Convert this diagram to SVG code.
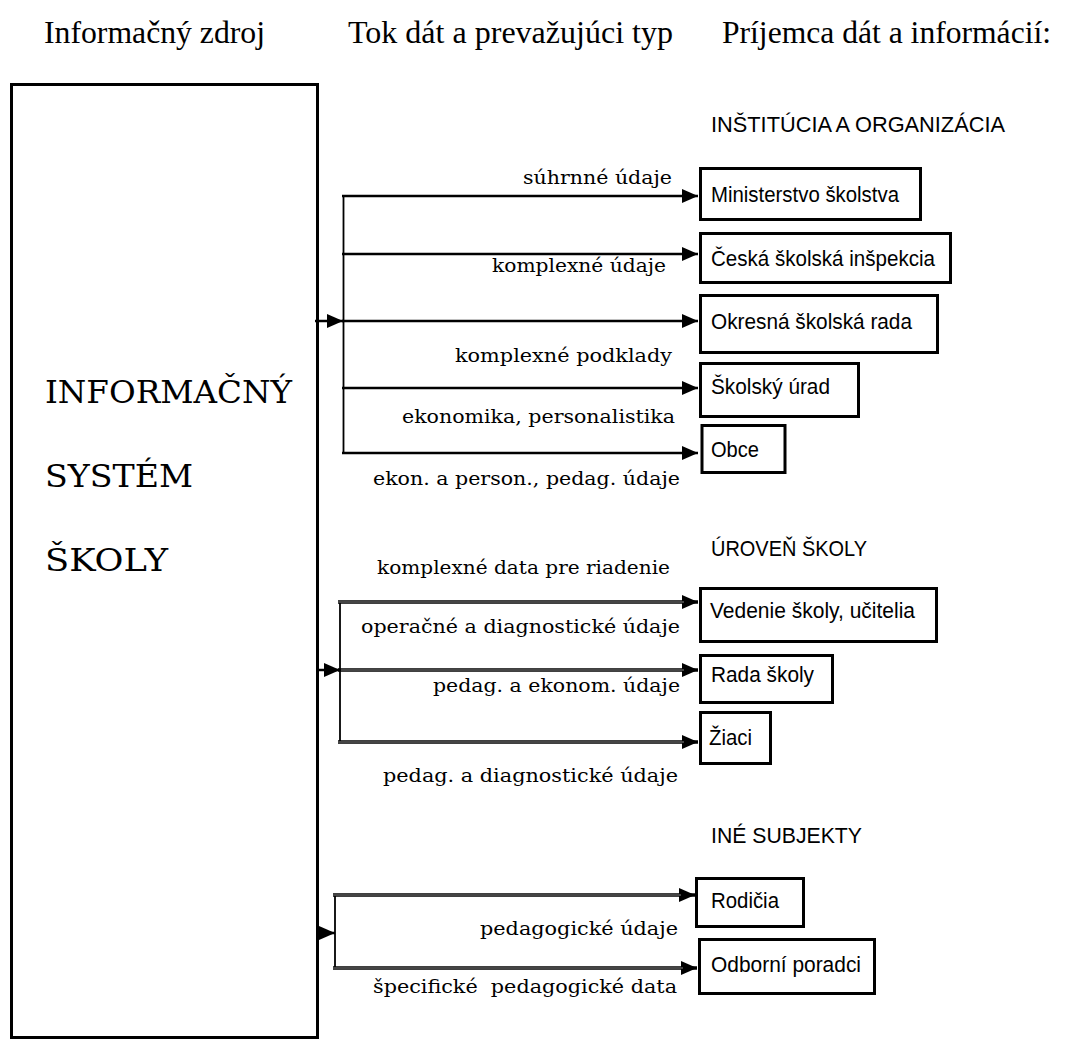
<svg xmlns="http://www.w3.org/2000/svg" width="1066" height="1041" viewBox="0 0 1066 1041">
  <style>
    .hdr { font-family: "Liberation Serif", "Times New Roman", serif; font-size: 32px; fill: #000; }
    .big { font-family: "DejaVu Serif", serif; font-size: 32px; fill: #000; }
    .box { fill: #fff; stroke: #000; stroke-width: 3; }
    .lbl { font-family: "Liberation Sans", Arial, sans-serif; font-size: 22.5px; fill: #000; }
    .flow { font-family: "DejaVu Serif", serif; font-size: 19px; fill: #000; white-space: pre; }
    .single { stroke: #000; stroke-width: 2.5; fill: none; }
    .bus { stroke: #000; stroke-width: 1.8; fill: none; }
    .dbl { stroke: #000; stroke-width: 3.6; fill: none; }
    .dblmid { stroke: #9a9a9a; stroke-width: 0.9; fill: none; }
  </style>
  <defs>
    <marker id="arr" viewBox="0 0 16 14" refX="16" refY="7" markerWidth="16" markerHeight="14" orient="auto" markerUnits="userSpaceOnUse">
      <path d="M0,0 L16,7 L0,14 z" fill="#000"/>
    </marker>
  </defs>

  <rect width="1066" height="1041" fill="#fff"/>

  <!-- column headings -->
  <g id="headings">
    <text class="hdr" x="44" y="43" textLength="221" lengthAdjust="spacingAndGlyphs">Informačný zdroj</text>
    <text class="hdr" x="348" y="43" textLength="325" lengthAdjust="spacingAndGlyphs">Tok dát a prevažujúci typ</text>
    <text class="hdr" x="722" y="43" textLength="329" lengthAdjust="spacingAndGlyphs">Príjemca dát a informácií:</text>
  </g>

  <!-- source: school information system -->
  <g id="source">
    <rect class="box" x="11.5" y="84.5" width="306" height="953"/>
    <text class="big" x="45" y="403" textLength="247" lengthAdjust="spacingAndGlyphs">INFORMAČNÝ</text>
    <text class="big" x="45" y="487" textLength="148" lengthAdjust="spacingAndGlyphs">SYSTÉM</text>
    <text class="big" x="45" y="571" textLength="123" lengthAdjust="spacingAndGlyphs">ŠKOLY</text>
  </g>

  <!-- connectors -->
  <g id="connectors">
    <!-- institutions and organisations -->
    <line class="single" x1="315" y1="321" x2="343" y2="321" marker-end="url(#arr)"/>
    <line class="bus" x1="343.5" y1="195" x2="343.5" y2="454"/>
    <line class="single" x1="342" y1="196" x2="698" y2="196" marker-end="url(#arr)"/>
    <line class="single" x1="342" y1="254" x2="698" y2="254" marker-end="url(#arr)"/>
    <line class="single" x1="342" y1="321" x2="698" y2="321" marker-end="url(#arr)"/>
    <line class="single" x1="342" y1="388" x2="698" y2="388" marker-end="url(#arr)"/>
    <line class="single" x1="342" y1="453" x2="698" y2="453" marker-end="url(#arr)"/>

    <!-- school level -->
    <line class="single" x1="317" y1="670" x2="340" y2="670" marker-end="url(#arr)"/>
    <line class="bus" x1="340" y1="602" x2="340" y2="742"/>
    <line class="dbl" x1="338" y1="602" x2="698" y2="602" marker-end="url(#arr)"/>
    <line class="dblmid" x1="338" y1="602" x2="684" y2="602"/>
    <line class="dbl" x1="338" y1="670" x2="698" y2="670" marker-end="url(#arr)"/>
    <line class="dblmid" x1="341" y1="670" x2="684" y2="670"/>
    <line class="dbl" x1="338" y1="742" x2="698" y2="742" marker-end="url(#arr)"/>
    <line class="dblmid" x1="338" y1="742" x2="684" y2="742"/>

    <!-- other subjects -->
    <line class="single" x1="317" y1="933" x2="335" y2="933" marker-end="url(#arr)"/>
    <line class="bus" x1="335" y1="895" x2="335" y2="968"/>
    <line class="dbl" x1="333" y1="895" x2="695" y2="895" marker-end="url(#arr)"/>
    <line class="dblmid" x1="333" y1="895" x2="681" y2="895"/>
    <line class="dbl" x1="333" y1="968" x2="697" y2="968" marker-end="url(#arr)"/>
    <line class="dblmid" x1="333" y1="968" x2="683" y2="968"/>
  </g>

  <!-- flow labels -->
  <g id="flow-labels">
    <text class="flow" x="523" y="184" textLength="149" lengthAdjust="spacingAndGlyphs">súhrnné údaje</text>
    <text class="flow" x="492" y="272" textLength="174" lengthAdjust="spacingAndGlyphs">komplexné údaje</text>
    <text class="flow" x="455" y="362" textLength="217" lengthAdjust="spacingAndGlyphs">komplexné podklady</text>
    <text class="flow" x="402" y="423" textLength="273" lengthAdjust="spacingAndGlyphs">ekonomika, personalistika</text>
    <text class="flow" x="373" y="485" textLength="307" lengthAdjust="spacingAndGlyphs">ekon. a person., pedag. údaje</text>
    <text class="flow" x="377" y="574" textLength="293" lengthAdjust="spacingAndGlyphs">komplexné data pre riadenie</text>
    <text class="flow" x="361" y="633" textLength="319" lengthAdjust="spacingAndGlyphs">operačné a diagnostické údaje</text>
    <text class="flow" x="433" y="692" textLength="247" lengthAdjust="spacingAndGlyphs">pedag. a ekonom. údaje</text>
    <text class="flow" x="383" y="782" textLength="295" lengthAdjust="spacingAndGlyphs">pedag. a diagnostické údaje</text>
    <text class="flow" x="480" y="935" textLength="198" lengthAdjust="spacingAndGlyphs">pedagogické údaje</text>
    <text class="flow" x="373" y="993" textLength="304" lengthAdjust="spacingAndGlyphs">špecifické  pedagogické data</text>
  </g>

  <!-- group headings -->
  <g id="group-headings">
    <text class="lbl" x="711" y="132" textLength="294" lengthAdjust="spacingAndGlyphs">INŠTITÚCIA A ORGANIZÁCIA</text>
    <text class="lbl" x="711" y="556" textLength="156" lengthAdjust="spacingAndGlyphs">ÚROVEŇ ŠKOLY</text>
    <text class="lbl" x="711" y="843" textLength="151" lengthAdjust="spacingAndGlyphs">INÉ SUBJEKTY</text>
  </g>

  <!-- recipients -->
  <g id="ministerstvo">
    <rect class="box" x="700.5" y="168.5" width="220" height="51"/>
    <text class="lbl" x="711" y="202" textLength="188" lengthAdjust="spacingAndGlyphs">Ministerstvo školstva</text>
  </g>
  <g id="inspekcia">
    <rect class="box" x="700.5" y="233.5" width="250" height="49"/>
    <text class="lbl" x="711" y="266" textLength="224" lengthAdjust="spacingAndGlyphs">Česká školská inšpekcia</text>
  </g>
  <g id="okresna-rada">
    <rect class="box" x="700.5" y="295.5" width="237" height="57"/>
    <text class="lbl" x="711" y="329" textLength="201" lengthAdjust="spacingAndGlyphs">Okresná školská rada</text>
  </g>
  <g id="skolsky-urad">
    <rect class="box" x="700.5" y="363.5" width="158" height="53"/>
    <text class="lbl" x="711" y="394" textLength="119" lengthAdjust="spacingAndGlyphs">Školský úrad</text>
  </g>
  <g id="obce">
    <rect class="box" x="702" y="425.5" width="83" height="47"/>
    <text class="lbl" x="711" y="457" textLength="48" lengthAdjust="spacingAndGlyphs">Obce</text>
  </g>
  <g id="vedenie">
    <rect class="box" x="700.5" y="588.5" width="236" height="53"/>
    <text class="lbl" x="710" y="618" textLength="205" lengthAdjust="spacingAndGlyphs">Vedenie školy, učitelia</text>
  </g>
  <g id="rada-skoly">
    <rect class="box" x="700.5" y="655.5" width="132" height="47"/>
    <text class="lbl" x="711" y="682" textLength="103" lengthAdjust="spacingAndGlyphs">Rada školy</text>
  </g>
  <g id="ziaci">
    <rect class="box" x="700.5" y="712.5" width="70" height="51"/>
    <text class="lbl" x="709" y="745" textLength="43" lengthAdjust="spacingAndGlyphs">Žiaci</text>
  </g>
  <g id="rodicia">
    <rect class="box" x="696.5" y="878.5" width="107" height="48"/>
    <text class="lbl" x="711" y="908" textLength="68" lengthAdjust="spacingAndGlyphs">Rodičia</text>
  </g>
  <g id="poradci">
    <rect class="box" x="699.5" y="939.5" width="175" height="54"/>
    <text class="lbl" x="711" y="972" textLength="150" lengthAdjust="spacingAndGlyphs">Odborní poradci</text>
  </g>
</svg>
